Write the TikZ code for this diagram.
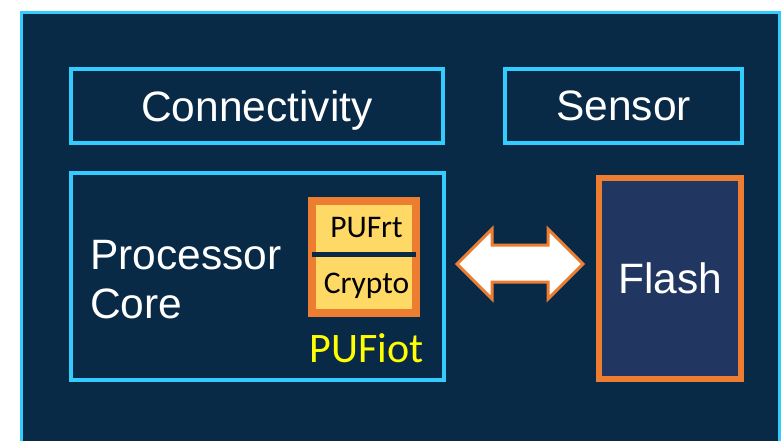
\documentclass[tikz,border=0pt]{standalone}
\usepackage{fontspec}
\setmainfont{Liberation Sans}
\newfontfamily\calibri{Carlito}
\usepackage{xcolor}
\definecolor{navybg}{HTML}{082A47}
\definecolor{cyanline}{HTML}{33CCFF}
\definecolor{orangeline}{HTML}{ED7D31}
\definecolor{flashfill}{HTML}{213762}
\definecolor{pufyellow}{HTML}{FFD966}
\definecolor{labelyellow}{HTML}{FFFF00}

\begin{document}
\begin{tikzpicture}[x=1pt, y=-1pt,
    bigtext/.style={text=white, font=\fontsize{42.5}{49}\selectfont},
    puftext/.style={font=\calibri\fontsize{31.5}{33}\selectfont, inner sep=0pt},
    cbox/.style={draw=cyanline, line width=4pt, fill=navybg, inner sep=0pt, bigtext}]

    \useasboundingbox (0,0) rectangle (781,440);
    \clip (0,0) rectangle (781,440);

    % Outer frame
    \draw[cyanline, line width=3pt, fill=navybg] (21.5,12.5) rectangle (779.5,450);

    % Top row
    \node[cbox, text depth=0pt, minimum width=372pt, minimum height=74pt] (conn) at (257,106) {Connectivity};
    \node[cbox, minimum width=237pt, minimum height=74pt] (sensor) at (623.5,106) {Sensor};

    % Processor
    \node[cbox, minimum width=373pt, minimum height=207pt] (proc) at (257.5,276.5) {};
    \node[bigtext, align=left, anchor=west, inner sep=0pt] (core) at (90,279.5) {Processor\\Core};

    % PUF block
    \node[draw=orangeline, line width=8pt, fill=pufyellow, inner sep=0pt,
          minimum width=104pt, minimum height=112pt] (puf) at (364,257) {};
    \draw[navybg, line width=5pt] ([xshift=4pt, yshift=2.5pt]puf.west) -- ([xshift=-4pt, yshift=2.5pt]puf.east);
    \node[puftext] (pufrt) at (366.5,228) {PUFrt};
    \node[puftext] (crypto) at (366.5,286) {Crypto};
    \node[font=\calibri\fontsize{42}{44}\selectfont, text=labelyellow, inner sep=0pt] (pufiot) at (366.5,348) {PUFiot};

    % Flash
    \node[draw=orangeline, line width=6pt, fill=flashfill, inner sep=0pt,
          minimum width=142pt, minimum height=201pt, bigtext] (flash) at (670,278.5) {Flash};

    % Double arrow
    \draw[orangeline, line width=3pt, fill=white, line join=miter]
        (457,264) -- (492,229) -- (492,245) -- (548,245) -- (548,229) -- (583,264)
        -- (548,299) -- (548,282) -- (492,282) -- (492,299) -- cycle;

\end{tikzpicture}
\end{document}
